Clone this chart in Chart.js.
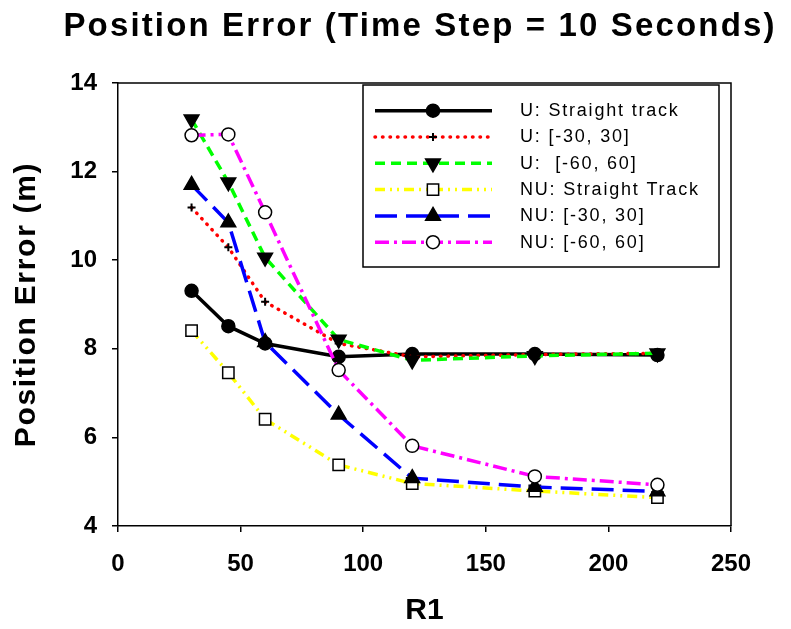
<!DOCTYPE html>
<html lang="en">
<head>
  <meta charset="UTF-8">
  <title>Position Error</title>
  <script src="https://cdn.jsdelivr.net/npm/chart.js"></script>
  <style>
    body {
      margin: 0;
      background: #ffffff;
    }
    canvas {
      display: block;
    }
  </style>
</head>
<body>
  <canvas id="errorChart" width="791" height="629"></canvas>

  <script>
    // R1 values on the x axis
    const r1 = [30, 45, 60, 90, 120, 170, 220];

    // position error (m) for each run
    const uStraight = [9.31, 8.51, 8.12, 7.82, 7.88, 7.88, 7.86];
    const u30 = [11.19, 10.29, 9.06, 8.12, 7.82, 7.87, 7.9];
    const u60 = [13.18, 11.76, 10.06, 8.21, 7.74, 7.84, 7.9];
    const nuStraight = [8.41, 7.46, 6.41, 5.38, 4.96, 4.79, 4.64];
    const nu30 = [11.7, 10.85, 8.15, 6.51, 5.08, 4.88, 4.78];
    const nu60 = [12.82, 12.84, 11.08, 7.52, 5.81, 5.12, 4.93];

    const seriesNames = [
      "U: Straight track",
      "U: [-30, 30]",
      "U:  [-60, 60]",
      "NU: Straight Track",
      "NU: [-30, 30]",
      "NU: [-60, 60]"
    ];

    const xTicks = [0, 50, 100, 150, 200, 250];
    const yTicks = [4, 6, 8, 10, 12, 14];

    const FONT = '"Liberation Sans", Arial, sans-serif';

    const toPoints = ys => ys.map((y, i) => ({ x: r1[i], y: y }));

    const styles = [
      { color: "#000000", dash: [], cap: "butt", width: 3.5,
        pointStyle: "circle", radius: 6.5, fill: "#000000", rotation: 0 },
      { color: "#ff0000", dash: [0.5, 7], cap: "round", width: 3.5,
        pointStyle: "cross", radius: 4, fill: "#000000", rotation: 0 },
      { color: "#00ff00", dash: [10, 6], cap: "butt", width: 3.5,
        pointStyle: "triangle", radius: 8.5, fill: "#000000", rotation: 180 },
      { color: "#ffff00", dash: [10, 5, 2, 5, 2, 5], cap: "butt", width: 3.5,
        pointStyle: "rect", radius: 8, fill: "#ffffff", rotation: 0 },
      { color: "#0000ff", dash: [22, 9], cap: "butt", width: 3.5,
        pointStyle: "triangle", radius: 8.5, fill: "#000000", rotation: 0 },
      { color: "#ff00ff", dash: [14, 5, 3, 5], cap: "butt", width: 3.5,
        pointStyle: "circle", radius: 6.5, fill: "#ffffff", rotation: 0 }
    ];

    const values = [uStraight, u30, u60, nuStraight, nu30, nu60];

    const datasets = values.map((ys, i) => {
      const s = styles[i];
      return {
        label: seriesNames[i],
        data: toPoints(ys),
        borderColor: s.color,
        borderWidth: s.width,
        borderDash: s.dash,
        borderCapStyle: s.cap,
        tension: 0,
        fill: false,
        pointStyle: s.pointStyle,
        pointRadius: s.radius,
        pointRotation: s.rotation,
        pointBackgroundColor: s.fill,
        pointBorderColor: "#000000",
        pointBorderWidth: s.pointStyle === "cross" ? 2 : 1.5,
        order: values.length - i   // later series sit on top
      };
    });

    // the y title is set a little loose, like the rest of the text
    function spacedTitle(scale, spacing) {
      if (scale._spaced) return;
      const draw = scale.drawTitle;
      scale.drawTitle = function () {
        this.ctx.save();
        this.ctx.letterSpacing = spacing;
        draw.call(this);
        this.ctx.restore();
      };
      scale._spaced = true;
    }

    // box round the plot: top and right edges
    const frame = {
      id: "frame",
      afterDatasetsDraw(chart) {
        const { ctx, chartArea: a } = chart;
        ctx.save();
        ctx.strokeStyle = "#000";
        ctx.lineWidth = 1.5;
        ctx.beginPath();
        ctx.moveTo(a.left, a.top);
        ctx.lineTo(a.right, a.top);
        ctx.lineTo(a.right, a.bottom);
        ctx.stroke();
        ctx.restore();
      }
    };

    const heading = {
      id: "heading",
      afterDraw(chart) {
        const ctx = chart.ctx;
        ctx.save();
        ctx.font = "bold 33px " + FONT;
        ctx.letterSpacing = "2.15px";
        ctx.fillStyle = "#000";
        ctx.textAlign = "center";
        ctx.textBaseline = "middle";
        ctx.fillText("Position Error (Time Step = 10 Seconds)", 420, 27);
        ctx.restore();
      }
    };

    // legend box with line samples and symbols
    const legendBox = {
      id: "legendBox",
      afterDraw(chart) {
        const ctx = chart.ctx;
        const bx = 363, by = 85, bw = 356, bh = 182;
        ctx.save();
        ctx.fillStyle = "#fff";
        ctx.fillRect(bx, by, bw, bh);
        ctx.strokeStyle = "#000";
        ctx.lineWidth = 1.5;
        ctx.strokeRect(bx, by, bw, bh);

        chart.data.datasets.forEach((ds, i) => {
          const y = 110.7 + i * 26.3;
          ctx.save();
          ctx.strokeStyle = ds.borderColor;
          ctx.lineWidth = ds.borderWidth;
          ctx.lineCap = ds.borderCapStyle;
          ctx.setLineDash(ds.borderDash);
          ctx.beginPath();
          ctx.moveTo(375, y);
          ctx.lineTo(492, y);
          ctx.stroke();
          ctx.restore();

          ctx.save();
          ctx.fillStyle = ds.pointBackgroundColor;
          ctx.strokeStyle = ds.pointBorderColor;
          ctx.lineWidth = ds.pointBorderWidth;
          Chart.helpers.drawPoint(ctx, {
            pointStyle: ds.pointStyle,
            radius: ds.pointRadius,
            rotation: ds.pointRotation,
            borderWidth: ds.pointBorderWidth
          }, 433, y);
          ctx.restore();

          ctx.save();
          ctx.fillStyle = "#000";
          ctx.font = "18px " + FONT;
          ctx.letterSpacing = "1.8px";
          ctx.textAlign = "left";
          ctx.textBaseline = "middle";
          ctx.fillText(ds.label, 520, y + 0.5);
          ctx.restore();
        });
        ctx.restore();
      }
    };

    new Chart(document.getElementById("errorChart"), {
      type: "line",
      data: { datasets: datasets },
      options: {
        responsive: false,
        animation: false,
        layout: { padding: { top: 83, right: 60, left: 0, bottom: 0 } },
        plugins: {
          legend: { display: false },
          title: { display: false },
          tooltip: { enabled: false }
        },
        scales: {
          x: {
            type: "linear",
            min: xTicks[0],
            max: xTicks[xTicks.length - 1],
            afterFit: s => { s.height = 103; },
            afterBuildTicks: s => { s.ticks = xTicks.map(v => ({ value: v })); },
            ticks: {
              color: "#000",
              padding: 18,
              font: { family: FONT, size: 24, weight: "bold" }
            },
            grid: {
              drawOnChartArea: false,
              drawTicks: true,
              tickLength: 6,
              color: "#000",
              lineWidth: 1.5
            },
            border: { color: "#000", width: 1.5 },
            title: {
              display: true,
              text: "R1",
              color: "#000",
              padding: { top: 0, bottom: 0 },
              font: { family: FONT, size: 30, weight: "bold" }
            }
          },
          y: {
            min: yTicks[0],
            max: yTicks[yTicks.length - 1],
            afterFit: s => { s.width = 118; spacedTitle(s, "1.7px"); },
            afterBuildTicks: s => { s.ticks = yTicks.map(v => ({ value: v })); },
            ticks: {
              color: "#000",
              padding: 15,
              font: { family: FONT, size: 24, weight: "bold" }
            },
            grid: {
              drawOnChartArea: false,
              drawTicks: true,
              tickLength: 6,
              color: "#000",
              lineWidth: 1.5
            },
            border: { color: "#000", width: 1.5 },
            title: {
              display: true,
              text: "Position Error (m)",
              color: "#000",
              padding: { top: 9, bottom: 0 },
              font: { family: FONT, size: 30, weight: "bold" }
            }
          }
        }
      },
      plugins: [frame, heading, legendBox]
    });
  </script>
</body>
</html>
